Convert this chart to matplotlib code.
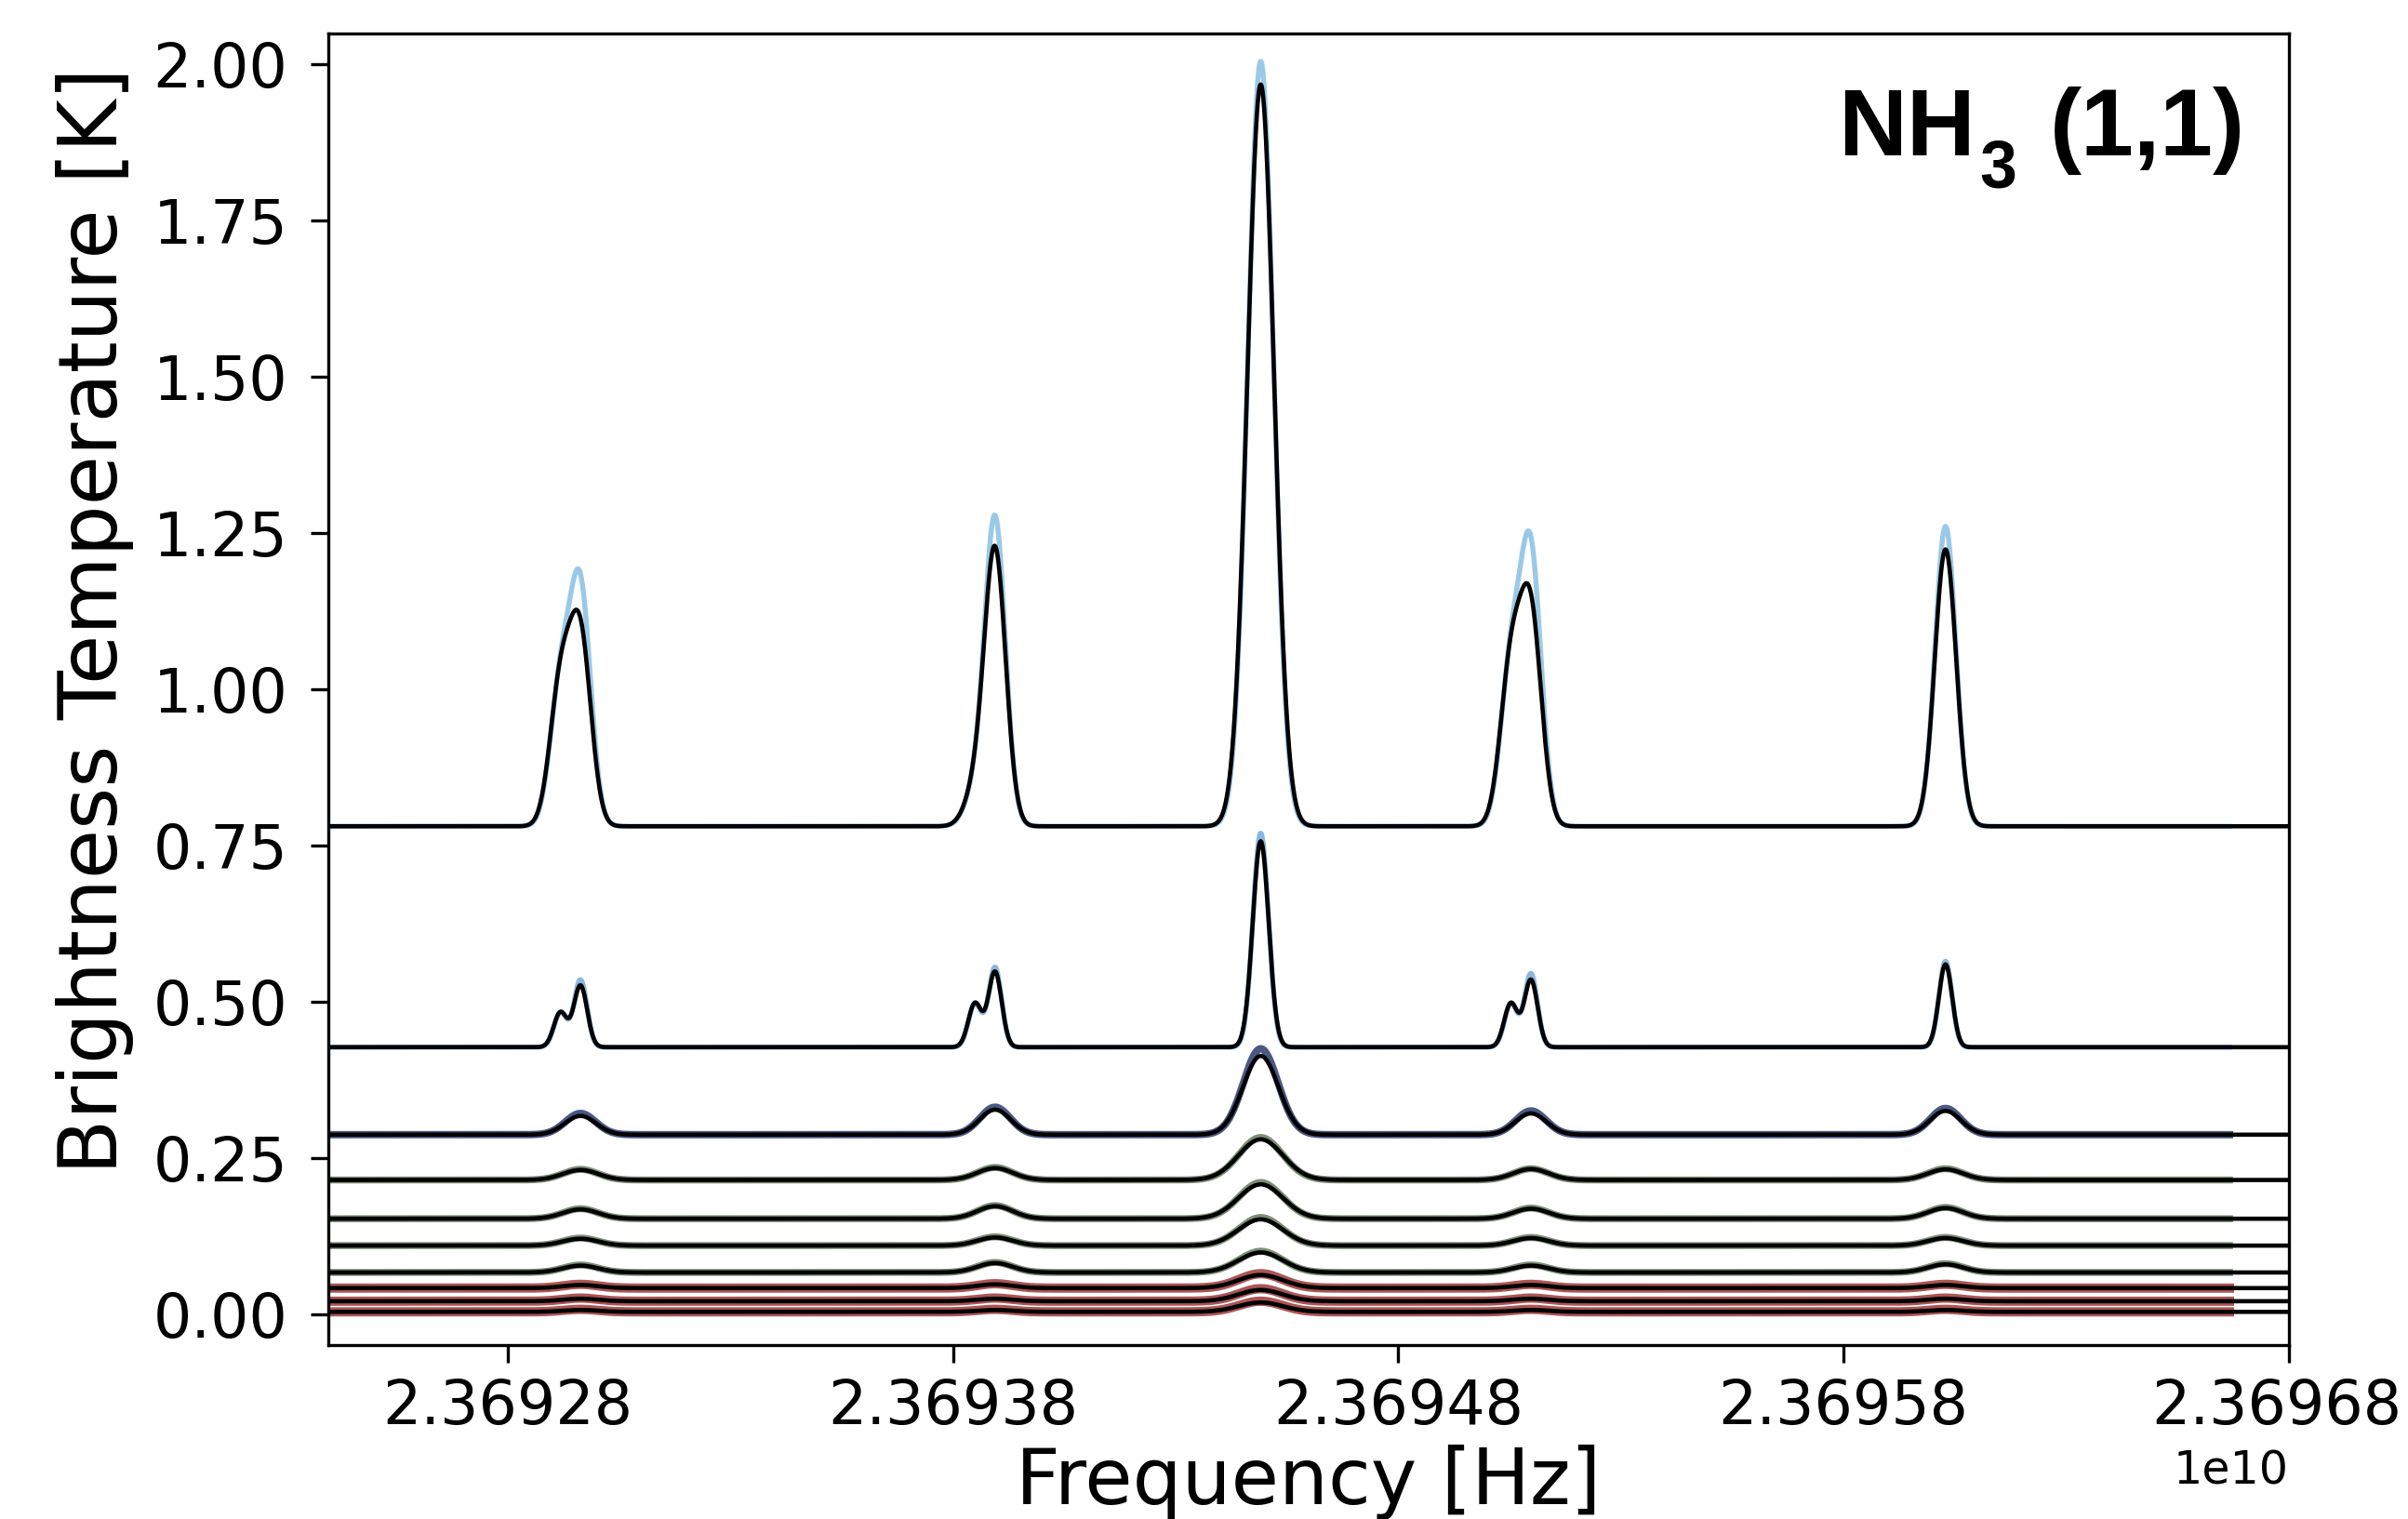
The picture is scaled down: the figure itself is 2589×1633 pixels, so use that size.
import numpy as np
import matplotlib
matplotlib.use("Agg")
import matplotlib.pyplot as plt
import matplotlib.transforms as mtransforms

# ---------------- data ----------------
# hyperfine group centres [Hz]: outer-low, inner-low, main, inner-high, outer-high
group_centers = [23692963200, 23693894300, 23694491100, 23695098000, 23696029200]
sub_offset_mhz = -0.045          # weaker left sub-component of satellite groups

# baselines (vertical offsets) of the ten stacked spectra [K]
baselines = [0.781, 0.4275, 0.2875, 0.215, 0.153, 0.110, 0.067, 0.042, 0.021, 0.004]

# fitted amplitudes above baseline, per group [K]
fit_amps = [
    [0.295, 0.440, 1.187, 0.330, 0.443],
    [0.0985, 0.1205, 0.3295, 0.1075, 0.1325],
    [0.030, 0.040, 0.126, 0.034, 0.038],
    [0.016, 0.019, 0.065, 0.0175, 0.017],
    [0.015, 0.020, 0.055, 0.016, 0.017],
    [0.011, 0.013, 0.042, 0.012, 0.012],
    [0.011, 0.015, 0.032, 0.011, 0.013],
    [0.005, 0.006, 0.021, 0.005, 0.005],
    [0.004, 0.004, 0.018, 0.004, 0.004],
    [0.003, 0.003, 0.015, 0.003, 0.003],
]
# amplitudes of the left sub-components (groups 1, 2, 4 only)
sub_amps = [
    [0.22, 0.05, 0.0, 0.25, 0.0],
    [0.0555, 0.07, 0.0, 0.07, 0.0],
    [0.0, 0.0, 0.0, 0.0, 0.0],
    [0.0, 0.0, 0.0, 0.0, 0.0],
    [0.0, 0.0, 0.0, 0.0, 0.0],
    [0.0, 0.0, 0.0, 0.0, 0.0],
    [0.0, 0.0, 0.0, 0.0, 0.0],
    [0.0, 0.0, 0.0, 0.0, 0.0],
    [0.0, 0.0, 0.0, 0.0, 0.0],
    [0.0, 0.0, 0.0, 0.0, 0.0],
]
# observed peak amplitudes above baseline (data lines) [K]
data_amps = [
    [0.37, 0.49, 1.224, 0.425, 0.48],
    [0.1075, 0.1275, 0.3425, 0.1175, 0.1375],
    [0.034, 0.044, 0.1375, 0.038, 0.042],
    [0.017, 0.020, 0.068, 0.018, 0.018],
    [0.016, 0.021, 0.058, 0.017, 0.018],
    [0.012, 0.014, 0.045, 0.013, 0.013],
    [0.012, 0.016, 0.034, 0.012, 0.014],
    [0.006, 0.007, 0.023, 0.006, 0.006],
    [0.005, 0.005, 0.020, 0.005, 0.005],
    [0.004, 0.004, 0.017, 0.004, 0.004],
]
# line widths (sigma) [MHz]: main group and satellites
sigma_main_mhz = [0.030, 0.018, 0.040, 0.050, 0.050, 0.050, 0.050, 0.050, 0.050, 0.050]
sigma_sat_mhz = [0.024, 0.015, 0.035, 0.040, 0.040, 0.040, 0.040, 0.040, 0.040, 0.040]

data_colors = ['#8fc3e6', '#7fb0dc', '#1d2f66', '#34552a', '#34552a', '#34552a',
               '#34552a', '#962a2a', '#962a2a', '#962a2a']
data_lw = [1.3, 1.3, 1.9, 1.8, 1.8, 1.8, 1.8, 2.4, 2.4, 2.4]
data_alpha = [0.9, 0.9, 0.8, 0.65, 0.65, 0.65, 0.65, 0.8, 0.8, 0.8]

x_ticks = [2.36928e10, 2.36938e10, 2.36948e10, 2.36958e10, 2.36968e10]
y_ticks = [0.0, 0.25, 0.5, 0.75, 1.0, 1.25, 1.5, 1.75, 2.0]
x_limits = (23692396800, 23696800000)
y_limits = (-0.0487, 2.0496)
data_end = 23696667000

# ---------------- figure ----------------
W, H, DPI = 2589, 1633, 300
fig = plt.figure(figsize=(W / DPI, H / DPI), dpi=DPI)
ax = fig.add_axes([353 / W, 1 - 1445.7 / H, (2460.7 - 353) / W, (1445.7 - 36) / H])


def profile(freq, base, amps, subs, s_main, s_sat):
    y = np.full_like(freq, base, dtype=float)
    for g, (c, a, sa) in enumerate(zip(group_centers, amps, subs)):
        s = (s_main if g == 2 else s_sat) * 1e6
        y += a * np.exp(-0.5 * ((freq - c) / s) ** 2)
        if sa:
            c2 = c + sub_offset_mhz * 1e6
            y += sa * np.exp(-0.5 * ((freq - c2) / s) ** 2)
    return y


f_fit = np.linspace(x_limits[0], x_limits[1], 4000)
f_dat = np.linspace(x_limits[0], data_end, 4000)

for i in range(len(baselines)):
    y_dat = profile(f_dat, baselines[i], data_amps[i], sub_amps[i],
                    sigma_main_mhz[i] * 0.97, sigma_sat_mhz[i] * 0.97)
    ax.plot(f_dat, y_dat, color=data_colors[i], lw=data_lw[i], alpha=data_alpha[i], zorder=2)

for i in range(len(baselines)):
    y_fit = profile(f_fit, baselines[i], fit_amps[i], sub_amps[i], sigma_main_mhz[i], sigma_sat_mhz[i])
    ax.plot(f_fit, y_fit, color='black', lw=1.1, zorder=3)

ax.set_xlim(*x_limits)
ax.set_ylim(*y_limits)
ax.set_xticks(x_ticks)
ax.set_yticks(y_ticks)
ax.ticklabel_format(axis='x', useOffset=False)
ax.tick_params(axis='both', labelsize=15.6, length=4.5, width=0.8)
ax.tick_params(axis='x', pad=4)
ax.tick_params(axis='y', pad=6)
ax.xaxis.get_offset_text().set_fontsize(11.8)

# keep the last x tick label fully inside the canvas
last = ax.xaxis.get_major_ticks()[-1].label1
last.set_transform(last.get_transform() + mtransforms.ScaledTranslation(-3 / 72, 0, fig.dpi_scale_trans))

ax.set_xlabel('Frequency [Hz]', fontsize=20, labelpad=2)
ax.set_ylabel('Brightness Temperature [K]', fontsize=20.8, labelpad=5)
ax.yaxis.label.set_y(0.552)

# label "NH3 (1,1)" built from pieces so the subscript sits low
title_font = dict(family='Liberation Sans', fontweight='bold', color='black', zorder=5)
base_y = 1 - 166.8 / H
fig.text(1976 / W, base_y, 'NH', ha='left', va='baseline', fontsize=24.5, **title_font)
fig.text(2128 / W, 1 - 201 / H, '3', ha='left', va='baseline', fontsize=17.2, **title_font)
fig.text(2414 / W, base_y, '(1,1)', ha='right', va='baseline', fontsize=24.5, **title_font)

fig.savefig('out.png', dpi=DPI)
